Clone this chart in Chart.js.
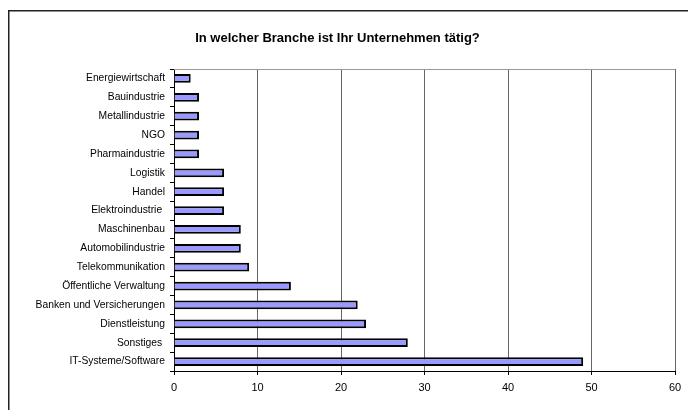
<!DOCTYPE html>
<html><head><meta charset="utf-8">
<script src="https://cdn.jsdelivr.net/npm/chart.js@4/dist/chart.umd.min.js"></script>
<style>html,body{margin:0;padding:0;background:#fff;}canvas{display:block;}</style>
</head><body>
<canvas id="c" width="688" height="410"></canvas>
<script>
const titleText = 'In welcher Branche ist Ihr Unternehmen tätig?';
const categories = ['Energiewirtschaft','Bauindustrie','Metallindustrie','NGO','Pharmaindustrie','Logistik','Handel','Elektroindustrie ','Maschinenbau','Automobilindustrie','Telekommunikation','Öffentliche Verwaltung','Banken und Versicherungen','Dienstleistung','Sonstiges ','IT-Systeme/Software'];
const values = [2,3,3,3,3,6,6,6,8,8,9,14,22,23,28,49];
const xTicks = [0,10,20,30,40,50,60];

const frame = {
  id:'frame',
  beforeDraw(chart){
    const ctx = chart.ctx;
    ctx.save();
    ctx.fillStyle='#fff';
    ctx.fillRect(0,0,chart.width,chart.height);
    ctx.strokeStyle='#222';
    ctx.lineWidth=1.5;
    ctx.strokeRect(8.75,10.75,800,500);
    ctx.restore();
  },
  afterDraw(chart){
    const a = chart.chartArea, ctx = chart.ctx;
    ctx.save();
    ctx.strokeStyle='#999';
    ctx.lineWidth=1;
    ctx.beginPath();
    ctx.moveTo(a.left, Math.round(a.top)+0.5);
    ctx.lineTo(a.right, Math.round(a.top)+0.5);
    ctx.stroke();
    ctx.restore();
  }
};

new Chart(document.getElementById('c'), {
  type:'bar',
  data:{labels:categories, datasets:[{data:values, backgroundColor:'#9999FF', borderColor:'#000', borderWidth:2, barPercentage:0.47, categoryPercentage:1}]},
  options:{
    indexAxis:'y', responsive:false, animation:false,
    layout:{padding:{top:10,right:13,left:0,bottom:0}},
    plugins:{
      legend:{display:false}, tooltip:{enabled:false},
      title:{display:true, text:titleText, color:'#000', font:{family:'Liberation Sans, Arial, sans-serif', size:13, weight:'bold', lineHeight:1.2}, padding:{top:21,bottom:22.4}}
    },
    scales:{
      x:{min:0,max:60, afterFit(s){s.height=39;},
        afterBuildTicks(s){s.ticks = xTicks.map(v=>({value:v}));},
        ticks:{color:'#000', font:{family:'Liberation Sans, Arial, sans-serif', size:11}, padding:6, maxRotation:0},
        grid:{color:'#666', lineWidth:1, tickColor:'#000', tickLength:4},
        border:{color:'#000', width:1}
      },
      y:{afterFit(s){s.width=174;},
        ticks:{color:'#000', font:{family:'Liberation Sans, Arial, sans-serif', size:10.3}, padding:5, autoSkip:false},
        grid:{drawOnChartArea:false, tickColor:'#000', tickLength:4},
        border:{color:'#000', width:1}
      }
    }
  },
  plugins:[frame]
});
</script>
</body></html>
